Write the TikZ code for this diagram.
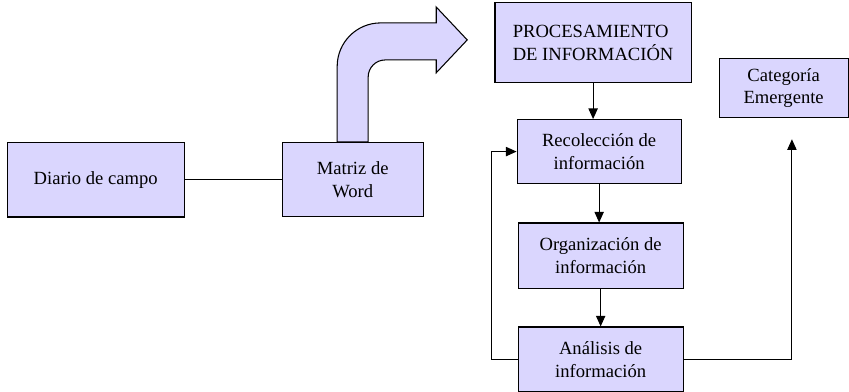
\documentclass[tikz,border=0pt]{standalone}
\usepackage{fontspec}
\setmainfont{Liberation Serif}
\usetikzlibrary{arrows.meta}
\definecolor{boxfill}{RGB}{218,214,254}
\tikzset{
  box/.style={draw, rectangle, line width=0.8pt, fill=boxfill, align=center},
}
\begin{document}
\begin{tikzpicture}[node distance=2.75cm, auto, font=\fontsize{14}{17}\selectfont, >={Triangle[width=7pt,length=8pt]}, line width=0.8pt]
        \useasboundingbox (-2.53,-5.62) rectangle (19.93,4.75);
        \node[box, minimum width=4.68cm, minimum height=1.98cm] (diario) {Diario de campo};
        \node[box, minimum width=3.73cm, minimum height=1.96cm, right of=diario, xshift=4.05cm] (matriz) {Matriz de\\Word};
        \node[box, minimum width=4.34cm, minimum height=1.69cm, right of=matriz, xshift=3.77cm, yshift=0.74cm] (recoleccion) {Recolección de\\información};
        \node[box, minimum width=5.19cm, minimum height=2.12cm, align=left, above of=recoleccion, xshift=-0.16cm, yshift=0.13cm] (procesamiento) {PROCESAMIENTO\\DE INFORMACIÓN};
        \node[box, minimum width=4.37cm, minimum height=1.72cm, below of=recoleccion, xshift=0.04cm] (organizacion) {Organización de\\información};
        \node[box, minimum width=4.37cm, minimum height=1.72cm, below of=organizacion] (analisis) {Análisis de\\información};
        \node[box, minimum width=3.41cm, minimum height=1.56cm, right of=recoleccion, xshift=2.13cm, yshift=1.68cm] (categoria) {Categoría\\Emergente};
        \coordinate (catin) at ([xshift=0.22cm, yshift=-0.56cm]categoria.south);

        % big bent arrow out of the matrix
        \begin{scope}[shift={(matriz.north)}]
            \draw[fill=boxfill] (-0.41,0) -- (-0.41,2.0) arc[start angle=180, end angle=90, radius=1.15]
                -- (2.21,3.15) -- (2.21,3.57) -- (3.03,2.70) -- (2.21,1.83) -- (2.21,2.17)
                -- (0.86,2.17) arc[start angle=90, end angle=180, radius=0.45] -- (0.41,0) -- cycle;
        \end{scope}

        \draw (diario) -- (matriz);
        \draw[->] (procesamiento) -- (procesamiento |- recoleccion.north);
        \draw[->] (recoleccion) -- (recoleccion |- organizacion.north);
        \draw[->] (organizacion) -- (analisis);
        \draw[->] (analisis.west) -- ++(-0.69,0) |- (recoleccion.west);
        \draw[->] (analisis.east) -| (catin);
    \end{tikzpicture}
\end{document}
